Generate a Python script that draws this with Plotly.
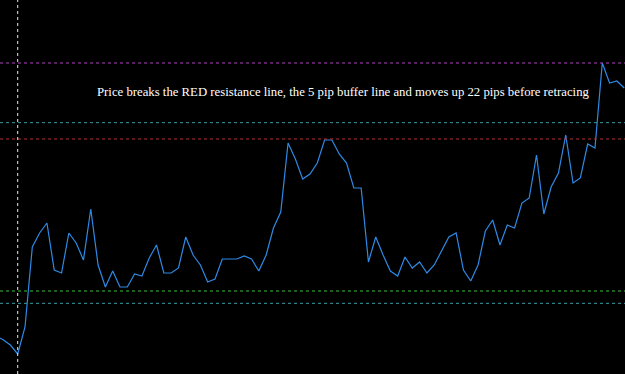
import plotly.graph_objects as go

# bar index (time axis) and closing prices
bars = list(range(0, 87))
close = [
    1.10114, 1.10103, 1.10087, 1.10060, 1.10141, 1.10381, 1.10423, 1.10453, 1.10312, 1.10303,
    1.10423, 1.10393, 1.10342, 1.10495, 1.10327, 1.10261, 1.10309, 1.10261, 1.10261, 1.10300,
    1.10294, 1.10348, 1.10387, 1.10303, 1.10303, 1.10318, 1.10411, 1.10357, 1.10327, 1.10276,
    1.10285, 1.10345, 1.10345, 1.10345, 1.10354, 1.10345, 1.10309, 1.10357, 1.10438, 1.10486,
    1.10693, 1.10645, 1.10585, 1.10600, 1.10633, 1.10702, 1.10702, 1.10660, 1.10633, 1.10558,
    1.10558, 1.10336, 1.10411, 1.10357, 1.10309, 1.10294, 1.10351, 1.10318, 1.10336, 1.10303,
    1.10327, 1.10369, 1.10411, 1.10423, 1.10312, 1.10279, 1.10327, 1.10429, 1.10462, 1.10387,
    1.10447, 1.10438, 1.10513, 1.10528, 1.10657, 1.10480, 1.10561, 1.10603, 1.10717, 1.10573,
    1.10588, 1.10690, 1.10678, 1.10933, 1.10873, 1.10879, 1.10858,
]

# horizontal levels
level_prices = [1.10933, 1.10754, 1.10705, 1.10249, 1.10212]
level_colors = ["#b040c0", "#3a9ca4", "#b83030", "#3cc03c", "#3a9ca4"]
marker_bar = 3

annotation_text = ("Price breaks the RED resistance line, the 5 pip buffer line "
                   "and moves up 22 pips before retracing")

fig = go.Figure()
fig.add_trace(go.Scatter(x=bars, y=close, mode="lines",
                         line=dict(color="#2e8ae6", width=1.2),
                         hoverinfo="skip", showlegend=False))

shapes = []
for p, c in zip(level_prices, level_colors):
    shapes.append(dict(type="line", xref="paper", x0=0, x1=1, yref="y", y0=p, y1=p,
                       line=dict(color=c, width=1, dash="3px,3px")))
shapes.append(dict(type="line", xref="x", x0=marker_bar, x1=marker_bar, yref="paper", y0=0, y1=1,
                   line=dict(color="#e8e8e8", width=1, dash="3px,3px")))

fig.update_layout(
    width=625, height=374,
    margin=dict(l=0, r=0, t=0, b=0),
    paper_bgcolor="#000000", plot_bgcolor="#000000",
    xaxis=dict(range=[0.578, 86.11], visible=False, showgrid=False, zeroline=False),
    yaxis=dict(range=[1.10000, 1.11122], visible=False, showgrid=False, zeroline=False),
    shapes=shapes,
    annotations=[dict(text=annotation_text, xref="x", yref="y", x=47.65, y=1.10847,
                      showarrow=False, xanchor="center", yanchor="middle",
                      font=dict(family="Liberation Serif", size=12.75, color="#ffffff"))],
)

fig.write_html("out.html")
